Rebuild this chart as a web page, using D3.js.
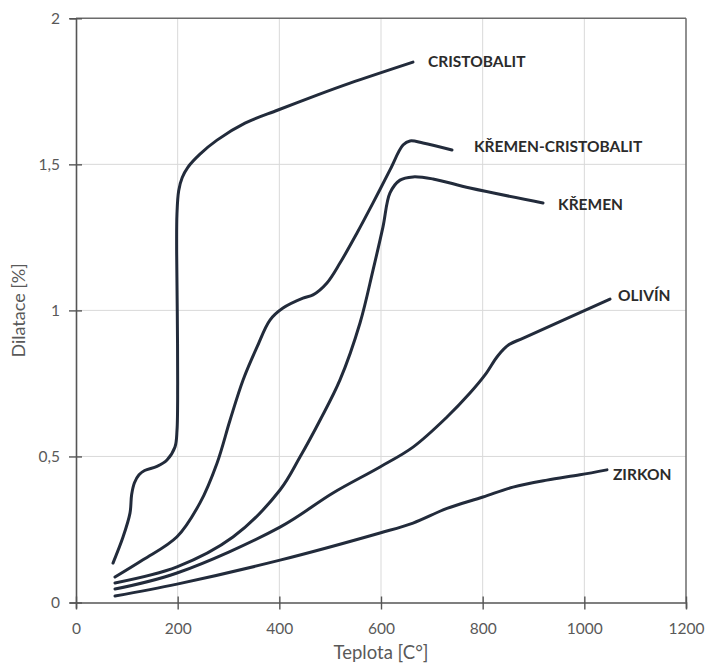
<!DOCTYPE html>
<html>
<head>
<meta charset="utf-8">
<script src="https://cdn.jsdelivr.net/npm/d3@7"></script>
<style>
  html, body { margin: 0; padding: 0; background: #fff; }
  svg { display: block; }
</style>
</head>
<body>
<svg id="chart" width="705" height="666"></svg>
<script>
// Teplotní dilatace žárovzdorných materiálů: [teplota °C, dilatace %]
const cristobalit = [
  [72.8, 0.135], [92.5, 0.224], [106.2, 0.306], [109.5, 0.37], [115, 0.41],
  [124, 0.437], [135, 0.452], [159.3, 0.466], [179, 0.488], [194.7, 0.532],
  [198.7, 0.59], [200, 0.75], [199.2, 1.0], [198, 1.2], [198.6, 1.33],
  [202, 1.41], [209, 1.455], [220, 1.49], [243.9, 1.535], [277.4, 1.583],
  [332.4, 1.641], [397.4, 1.686], [474.1, 1.737], [539, 1.778], [662.9, 1.85]
];
const kremenCristobalit = [
  [76.7, 0.087], [131.8, 0.146], [198.7, 0.225], [243.9, 0.341], [277.4, 0.477],
  [303, 0.624], [328.5, 0.761], [356, 0.874], [381.6, 0.967], [407.2, 1.008],
  [446.5, 1.042], [466.2, 1.053], [493.7, 1.094], [519.3, 1.162], [552.8, 1.265],
  [584.3, 1.368], [617.7, 1.481], [643.3, 1.566], [657, 1.58], [682.6, 1.573],
  [739.6, 1.549]
];
const kremen = [
  [76.7, 0.067], [198.7, 0.122], [308.8, 0.224], [401.3, 0.385], [440.6, 0.498],
  [480, 0.624], [519.3, 0.762], [558.7, 0.957], [584.3, 1.138], [603.9, 1.286],
  [617.7, 1.402], [637.4, 1.446], [663, 1.457], [702.3, 1.45], [775, 1.419],
  [918.7, 1.368]
];
const olivin = [
  [76.7, 0.046], [198.7, 0.101], [401.3, 0.258], [505.5, 0.375], [598, 0.464],
  [663, 0.532], [729.8, 0.635], [775, 0.717], [805, 0.78], [830, 0.845],
  [852, 0.883], [880, 0.905], [1050.5, 1.039]
];
const zirkon = [
  [76.7, 0.022], [198.7, 0.063], [401.3, 0.145], [598, 0.238], [663, 0.272],
  [729.8, 0.322], [800.6, 0.361], [859.7, 0.395], [926.5, 0.419], [991.4, 0.437],
  [1044.5, 0.454]
];

const seriesNames = ["CRISTOBALIT", "KŘEMEN-CRISTOBALIT", "KŘEMEN", "OLIVÍN", "ZIRKON"];
const seriesValues = [cristobalit, kremenCristobalit, kremen, olivin, zirkon];

const xTicks = [0, 200, 400, 600, 800, 1000, 1200];
const yTicks = [0, 0.5, 1, 1.5, 2];
const xTitle = "Teplota [C°]";
const yTitle = "Dilatace [%]";

// Label placement relative to each curve's last point (px)
const labelOffsets = [[15, -1], [22, -4], [15, 1], [8, -4], [6, 4]];

const svg = d3.select("#chart");
const font = "Lato, 'Open Sans', 'Liberation Sans', sans-serif";

const x = d3.scaleLinear().domain([0, 1200]).range([76, 686]);
const y = d3.scaleLinear().domain([0, 2]).range([602.5, 18.3]);

const czFormat = d3.formatLocale({ decimal: ",", thousands: "", grouping: [3], currency: ["", ""] }).format("~g");

// Grid
const grid = svg.append("g");
grid.selectAll("line.v").data(xTicks.slice(1, -1)).join("line")
  .attr("x1", d => x(d)).attr("x2", d => x(d))
  .attr("y1", y(0)).attr("y2", y(2))
  .attr("stroke", "#d9d9d9").attr("stroke-width", 1);
grid.selectAll("line.h").data(yTicks.slice(1, -1)).join("line")
  .attr("x1", x(0)).attr("x2", x(1200))
  .attr("y1", d => y(d)).attr("y2", d => y(d))
  .attr("stroke", "#d9d9d9").attr("stroke-width", 1);

// Frame (top and right)
svg.append("line").attr("x1", x(0)).attr("x2", x(1200)).attr("y1", y(2)).attr("y2", y(2))
  .attr("stroke", "#6b6b6b").attr("stroke-width", 1.5);
svg.append("line").attr("x1", x(1200)).attr("x2", x(1200)).attr("y1", y(2)).attr("y2", y(0))
  .attr("stroke", "#6b6b6b").attr("stroke-width", 1.5);

// Axes with ticks crossing the axis line
const xAxis = svg.append("g").attr("transform", `translate(0,${y(0)})`)
  .call(d3.axisBottom(x).tickValues(xTicks).tickFormat(d3.format("d")).tickSize(6).tickPadding(14));
xAxis.selectAll(".tick line").attr("y1", -6).attr("y2", 7);
const yAxis = svg.append("g").attr("transform", `translate(${x(0)},0)`)
  .call(d3.axisLeft(y).tickValues(yTicks).tickFormat(czFormat).tickSize(6).tickPadding(10));
yAxis.selectAll(".tick line").attr("x1", -7).attr("x2", 6);

[xAxis, yAxis].forEach(a => {
  a.select(".domain").attr("stroke", "#555").attr("stroke-width", 1.6);
  a.selectAll(".tick line").attr("stroke", "#555").attr("stroke-width", 1.4);
  a.selectAll(".tick text").attr("fill", "#595959").attr("font-family", font).attr("font-size", 15.5);
});

// Axis titles
svg.append("text").attr("x", x(600)).attr("y", 659)
  .attr("text-anchor", "middle").attr("font-family", font).attr("font-size", 18.5)
  .attr("fill", "#595959").text(xTitle);
svg.append("text").attr("transform", `translate(25,${y(1)}) rotate(-90)`)
  .attr("text-anchor", "middle").attr("font-family", font).attr("font-size", 18)
  .attr("fill", "#595959").text(yTitle);

// Curves
const line = d3.line().x(d => x(d[0])).y(d => y(d[1])).curve(d3.curveCatmullRom.alpha(0.5));
svg.append("g").selectAll("path").data(seriesValues).join("path")
  .attr("d", line)
  .attr("fill", "none").attr("stroke", "#222b3b").attr("stroke-width", 3)
  .attr("stroke-linecap", "round").attr("stroke-linejoin", "round");

// Curve labels
svg.append("g").selectAll("text").data(seriesNames).join("text")
  .attr("x", (d, i) => x(seriesValues[i][seriesValues[i].length - 1][0]) + labelOffsets[i][0])
  .attr("y", (d, i) => y(seriesValues[i][seriesValues[i].length - 1][1]) + labelOffsets[i][1])
  .attr("dominant-baseline", "central")
  .attr("font-family", font).attr("font-weight", "bold").attr("font-size", 15.5)
  .attr("fill", "#2b2b2b").text(d => d);
</script>
</body>
</html>
